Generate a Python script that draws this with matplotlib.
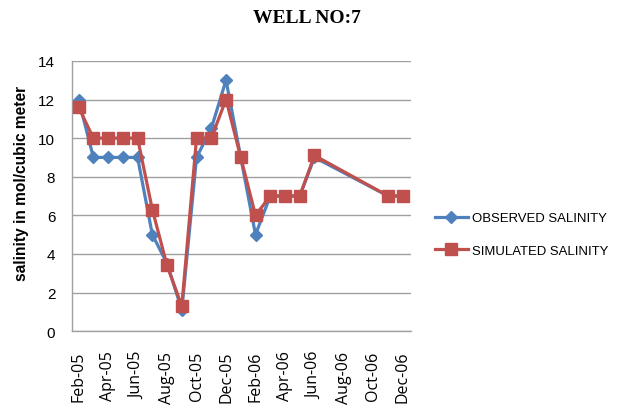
import numpy as np
import pandas as pd
import matplotlib
matplotlib.use("Agg")
import matplotlib.pyplot as plt

# sample months (Excel-style monthly date axis)
months = ["2005-02", "2005-03", "2005-04", "2005-05", "2005-06", "2005-07",
          "2005-08", "2005-09", "2005-10", "2005-11", "2005-12", "2006-01",
          "2006-02", "2006-03", "2006-04", "2006-05", "2006-06", "2006-11",
          "2006-12"]
observed = [12, 9, 9, 9, 9, 5, 3.5, 1.1, 9, 10.5, 13, 9, 5, 7, 7, 7, 9.0, 7, 7]
simulated = [11.6, 10, 10, 10, 10, 6.3, 3.4, 1.3, 10, 10, 12, 9, 6, 7, 7, 7, 9.1, 7, 7]
tick_months = ["2005-02", "2005-04", "2005-06", "2005-08", "2005-10", "2005-12",
               "2006-02", "2006-04", "2006-06", "2006-08", "2006-10", "2006-12"]

BLUE = "#4F81BD"
RED = "#C0504D"

start = pd.Period(months[0], freq="M")
def midx(s):
    return (pd.Period(s, freq="M") - start).n

x = np.array([midx(m) for m in months])
xt = [midx(m) for m in tick_months]
xt_labels = [pd.Period(m, freq="M").strftime("%b-%y") for m in tick_months]

fig = plt.figure(figsize=(6.19, 4.10), dpi=100)
ax = fig.add_axes([0.1163, 0.190, 0.664 - 0.1163, 0.849 - 0.190])

ax.plot(x, observed, color=BLUE, lw=2.3, marker="D", ms=6, label="OBSERVED SALINITY", zorder=3)
ax.plot(x, simulated, color=RED, lw=2.3, marker="s", ms=9, label="SIMULATED SALINITY", zorder=4)

ax.set_ylim(0, 14)
ax.set_yticks(np.arange(0, 15, 2))
ax.set_xlim(-0.45, 22.55)
ax.set_xticks(xt)
ax.set_xticklabels(xt_labels, rotation=90, fontsize=11.5, family="Open Sans")
for lab in ax.get_yticklabels():
    lab.set_family("Liberation Sans")
    lab.set_fontsize(11)

ax.yaxis.grid(True, color="#A0A0A0", lw=1)
ax.set_axisbelow(True)
ax.tick_params(length=0)
ax.tick_params(axis="x", pad=14)
ax.tick_params(axis="y", pad=12)
for s in ["top", "right"]:
    ax.spines[s].set_visible(False)
for s in ["left", "bottom"]:
    ax.spines[s].set_color("#A0A0A0")
    ax.spines[s].set_linewidth(1)

fig.text(0.0355, 0.552, "salinity in mol/cubic meter", rotation=90, ha="center",
         va="center", fontsize=11.2, fontweight="bold", family="Liberation Sans")

fig.text(0.496, 0.954, "WELL NO:7", ha="center", va="center", fontsize=14,
         fontweight="bold", family="Liberation Serif")

leg = ax.legend(loc="center left", bbox_to_anchor=(0.7027, 0.4255),
                bbox_transform=fig.transFigure, frameon=False,
                borderpad=0, borderaxespad=0,
                prop={"family": "Liberation Sans", "size": 9.45},
                handlelength=2.5, handletextpad=0.3, labelspacing=1.55)

fig.savefig("out.png", dpi=100)
